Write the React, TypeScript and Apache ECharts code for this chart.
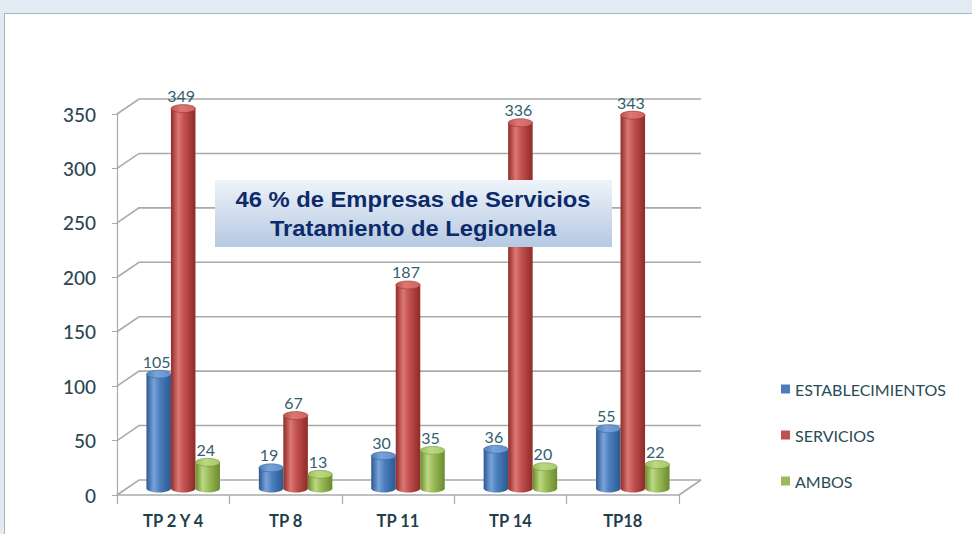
import React, { useEffect, useRef } from "react";
import * as echarts from "echarts";

const categories = ["TP 2 Y 4", "TP 8", "TP 11", "TP 14", "TP18"];
const seriesNames = ["ESTABLECIMIENTOS", "SERVICIOS", "AMBOS"];
const establecimientos = [105, 19, 30, 36, 55];
const servicios = [349, 67, 187, 336, 343];
const ambos = [24, 13, 35, 20, 22];
const yTicks = [0, 50, 100, 150, 200, 250, 300, 350];
const annotationLines = ["46 % de Empresas de Servicios", "Tratamiento de Legionela"];

const palettes = [
  { main: "#4a7ebb", dark: "#2b5891", light: "#79a3da", top: "#5d8fcc" },
  { main: "#c0504d", dark: "#8e2a28", light: "#dc7774", top: "#cf625f" },
  { main: "#9bbb59", dark: "#6a8a2c", light: "#bcd884", top: "#a9c86a" },
];

const DX = 22;
const DY = -15;
const BAR_W = 24.5;
const RY = 4;
const LABEL_COLOR = "#33606e";
const AXIS_TEXT = "#2c4652";
const GRID_COLOR = "#aaaaaa";

export default function App() {
  const ref = useRef<HTMLDivElement>(null);

  useEffect(() => {
    if (!ref.current) return;
    const chart = echarts.init(ref.current, null, { renderer: "svg" });
    const seriesData = [establecimientos, servicios, ambos];

    const frameSeries = {
      type: "custom",
      name: "frame",
      z: 1,
      silent: true,
      data: yTicks.map((v) => [0, v]),
      renderItem: (params: any, api: any) => {
        const v = api.value(1);
        const p = api.coord([0, v]);
        const band = api.size([1, 0])[0];
        const left = p[0] - band / 2;
        const right = left + band * categories.length;
        const y = p[1];
        const children: any[] = [
          {
            type: "polyline",
            shape: { points: [[left, y], [left + DX, y + DY], [right + DX, y + DY]] },
            style: { stroke: GRID_COLOR, lineWidth: 1.6, fill: "none" },
          },
        ];
        if (v === 0) {
          children.push({
            type: "polyline",
            shape: { points: [[right, y], [right + DX, y + DY]] },
            style: { stroke: GRID_COLOR, lineWidth: 1.6, fill: "none" },
          });
        }
        return { type: "group", children };
      },
    };

    const barSeries = seriesNames.map((name, k) => {
      const pal = palettes[k];
      return {
        type: "custom",
        name,
        z: 3,
        itemStyle: { color: pal.main },
        data: seriesData[k].map((v, i) => [i, v]),
        renderItem: (params: any, api: any) => {
          const i = api.value(0);
          const v = api.value(1);
          const base = api.coord([i, 0]);
          const top = api.coord([i, v]);
          const cx = base[0] + DX / 2 - 1 + (k - 1) * BAR_W;
          const by = base[1] + DY / 2 + 1;
          const ty = top[1] + DY / 2 + 1;
          const x0 = cx - BAR_W / 2;
          const grad = {
            type: "linear",
            x: 0,
            y: 0,
            x2: 1,
            y2: 0,
            colorStops: [
              { offset: 0, color: pal.dark },
              { offset: 0.3, color: pal.light },
              { offset: 0.55, color: pal.main },
              { offset: 1, color: pal.dark },
            ],
          };
          const topGrad = {
            type: "linear",
            x: 0,
            y: 0,
            x2: 1,
            y2: 0,
            colorStops: [
              { offset: 0, color: pal.main },
              { offset: 0.4, color: pal.light },
              { offset: 1, color: pal.top },
            ],
          };
          return {
            type: "group",
            children: [
              {
                type: "ellipse",
                shape: { cx, cy: by, rx: BAR_W / 2, ry: RY },
                style: { fill: grad },
              },
              {
                type: "rect",
                shape: { x: x0, y: ty, width: BAR_W, height: by - ty },
                style: { fill: grad },
              },
              {
                type: "ellipse",
                shape: { cx, cy: ty, rx: BAR_W / 2, ry: RY },
                style: { fill: topGrad, stroke: pal.dark, lineWidth: 0.5 },
              },
              {
                type: "text",
                x: cx - 2,
                y: ty - RY - 1,
                style: {
                  text: String(v),
                  fill: LABEL_COLOR,
                  font: '16px Lato',
                  align: "center",
                  verticalAlign: "bottom",
                  textAlign: "center",
                  textVerticalAlign: "bottom",
                },
              },
            ],
          };
        },
      };
    });

    const option: any = {
      animation: false,
      backgroundColor: "transparent",
      grid: { left: 117, right: 293, top: 114, bottom: 39, containLabel: false },
      xAxis: {
        type: "category",
        data: categories,
        axisLine: { show: true, lineStyle: { color: GRID_COLOR, width: 1.6 } },
        axisTick: { show: true, length: 9, alignWithLabel: false, lineStyle: { color: GRID_COLOR, width: 1.2 } },
        axisLabel: {
          margin: 17,
          color: "#1f3f4f",
          fontFamily: "Lato",
          fontWeight: "bold",
          fontSize: 16.5,
        },
        splitLine: { show: false },
      },
      yAxis: {
        type: "value",
        min: 0,
        max: 350,
        interval: 50,
        axisLine: { show: true, lineStyle: { color: GRID_COLOR, width: 1.2 } },
        axisTick: { show: true, length: 5, lineStyle: { color: GRID_COLOR } },
        axisLabel: { margin: 21, color: AXIS_TEXT, fontFamily: "Lato", fontSize: 19, fontWeight: 500 },
        splitLine: { show: false },
      },
      legend: {
        data: seriesNames,
        orient: "vertical",
        left: 776,
        top: 375,
        itemWidth: 9,
        itemHeight: 9,
        itemGap: 28,
        itemStyle: { borderWidth: 0 },
        icon: "rect",
        selectedMode: false,
        textStyle: { color: "#2a4b56", fontFamily: "Lato", fontSize: 16, lineHeight: 18 },
      },
      graphic: [
        {
          type: "group",
          z: 100,
          children: [
            {
              type: "rect",
              z: 100,
              shape: { x: 215, y: 180, width: 397, height: 67 },
              style: {
                fill: {
                  type: "linear",
                  x: 0,
                  y: 0,
                  x2: 0,
                  y2: 1,
                  colorStops: [
                    { offset: 0, color: "#eef3f9" },
                    { offset: 1, color: "#b5c9e2" },
                  ],
                },
              },
            },
            {
              type: "text",
              z: 101,
              x: 413,
              y: 214,
              scaleX: 1.08,
              style: {
                text: annotationLines.join("\n"),
                fill: "#0d2a6a",
                font: 'bold 22px "Liberation Sans", Arial, sans-serif',
                lineHeight: 29,
                align: "center",
                verticalAlign: "middle",
                textAlign: "center",
                textVerticalAlign: "middle",
              },
            },
          ],
        },
      ],
      series: [frameSeries, ...barSeries],
    };

    chart.setOption(option);
    return () => chart.dispose();
  }, []);

  return (
    <div style={{ position: "absolute", left: 0, top: 0, width: 972, height: 534, background: "#e2eaf4", overflow: "hidden" }}>
      <div
        style={{
          position: "absolute",
          left: 4,
          top: 13,
          width: 1000,
          height: 600,
          background: "#ffffff",
          border: "1px solid #aab3be",
        }}
      />
      <div ref={ref} style={{ position: "absolute", left: 0, top: 0, width: 972, height: 534 }} />
    </div>
  );
}
